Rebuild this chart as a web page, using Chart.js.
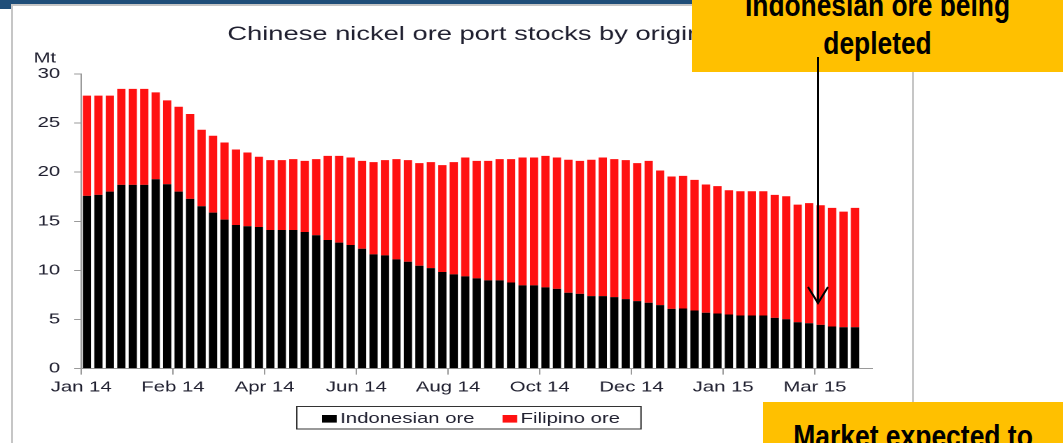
<!DOCTYPE html>
<html lang="en">
<head>
<meta charset="UTF-8">
<title>Chinese nickel ore port stocks by origin</title>
<script src="https://cdn.jsdelivr.net/npm/chart.js"></script>
<style>
  html, body { margin: 0; padding: 0; background: #fff; }
  body { width: 1063px; height: 443px; position: relative; overflow: hidden; font-family: 'Liberation Sans', Arial, sans-serif; }
  #band { position: absolute; left: 0; top: 0; width: 1063px; height: 4px; background: #1f4e79; }
  #corner { position: absolute; left: 0; top: 0; width: 11px; height: 9px; background: #1f4e79; }
  #frame { position: absolute; left: 11px; top: 4px; width: 903px; height: 470px; border: 2px solid #c6c6c6; box-sizing: border-box; }
  /* the source picture is stretched sideways, so the chart is drawn narrow and widened */
  #wrap { position: absolute; left: 0; top: 0; width: 664px; height: 443px; transform: scaleX(1.4); transform-origin: 0 0; }
  .note { position: absolute; background: #ffc000; color: #000; overflow: hidden; text-align: center;
          font-family: 'Liberation Sans', Arial, sans-serif; font-weight: bold; }
  .note div { position: absolute; left: -40px; right: -40px; transform: scaleX(0.85); }
  #note1 { left: 692px; top: 0; width: 371px; height: 72px; }
  #note1 div { top: -13px; font-size: 31px; line-height: 38px; }
  #note2 { left: 763px; top: 402px; width: 300px; height: 41px; }
  #note2 div { top: 15px; font-size: 31.5px; line-height: 38px; transform: scaleX(0.84); }
  #arrow { position: absolute; left: 0; top: 0; }
</style>
</head>
<body>
<div id="band"></div>
<div id="corner"></div>
<div id="frame"></div>
<div id="wrap"><canvas id="stocks" width="664" height="443"></canvas></div>

<div class="note" id="note1"><div>Indonesian ore being<br>depleted</div></div>
<div class="note" id="note2"><div>Market expected to</div></div>
<svg id="arrow" width="1063" height="443">
  <line x1="818" y1="57" x2="818" y2="302" stroke="#000" stroke-width="2"/>
  <polyline points="808,287 818,303 828,287" fill="none" stroke="#000" stroke-width="2"/>
</svg>

<script>
// weekly readings, Mt
var weeks = ['03 Jan 14','10 Jan 14','17 Jan 14','24 Jan 14','31 Jan 14','07 Feb 14','14 Feb 14','21 Feb 14','28 Feb 14',
  '07 Mar 14','14 Mar 14','21 Mar 14','28 Mar 14','04 Apr 14','11 Apr 14','18 Apr 14','25 Apr 14',
  '02 May 14','09 May 14','16 May 14','23 May 14','30 May 14','06 Jun 14','13 Jun 14','20 Jun 14','27 Jun 14',
  '04 Jul 14','11 Jul 14','18 Jul 14','25 Jul 14','01 Aug 14','08 Aug 14','15 Aug 14','22 Aug 14','29 Aug 14',
  '05 Sep 14','12 Sep 14','19 Sep 14','26 Sep 14','03 Oct 14','10 Oct 14','17 Oct 14','24 Oct 14','31 Oct 14',
  '07 Nov 14','14 Nov 14','21 Nov 14','28 Nov 14','05 Dec 14','12 Dec 14','19 Dec 14','26 Dec 14',
  '02 Jan 15','09 Jan 15','16 Jan 15','23 Jan 15','30 Jan 15','06 Feb 15','13 Feb 15','20 Feb 15','27 Feb 15',
  '06 Mar 15','13 Mar 15','20 Mar 15','27 Mar 15','03 Apr 15','10 Apr 15','17 Apr 15','24 Apr 15'];

var xTickLabels = ['Jan 14', 'Feb 14', 'Apr 14', 'Jun 14', 'Aug 14', 'Oct 14', 'Dec 14', 'Jan 15', 'Mar 15'];
var yTicks = [0, 5, 10, 15, 20, 25, 30];

var indonesian = [17.58, 17.68, 18.02, 18.7, 18.7, 18.7, 19.28, 18.77, 18.02, 17.28,
  16.53, 15.88, 15.17, 14.62, 14.49, 14.42, 14.11, 14.11, 14.11, 13.91,
  13.57, 13.09, 12.82, 12.58, 12.2, 11.63, 11.53, 11.12, 10.88, 10.47,
  10.23, 9.83, 9.59, 9.39, 9.18, 8.98, 8.98, 8.77, 8.47, 8.47,
  8.27, 8.12, 7.72, 7.61, 7.38, 7.38, 7.28, 7.07, 6.87, 6.7,
  6.46, 6.08, 6.12, 5.92, 5.68, 5.61, 5.51, 5.41, 5.41, 5.41,
  5.17, 5.03, 4.72, 4.62, 4.45, 4.29, 4.21, 4.21, null];

var filipino = [10.21, 10.11, 9.77, 9.77, 9.77, 9.77, 8.84, 8.54, 8.64, 8.64,
  7.79, 7.82, 7.85, 7.69, 7.51, 7.14, 7.11, 7.11, 7.22, 7.24,
  7.76, 8.57, 8.84, 8.91, 8.95, 9.39, 9.69, 10.21, 10.34, 10.45,
  10.79, 10.88, 11.43, 12.1, 11.97, 12.17, 12.35, 12.56, 13.02, 13.02,
  13.39, 13.37, 13.54, 13.54, 13.88, 14.11, 14.05, 14.15, 14.05, 14.45,
  13.71, 13.47, 13.5, 13.29, 13.06, 12.96, 12.65, 12.65, 12.65, 12.65,
  12.51, 12.52, 11.97, 12.22, 12.18, 12.07, 11.77, 12.15, null];

var textColor = '#202030';
var axisColor = '#9a9a9a';
var font = "'Liberation Sans', Arial, sans-serif";

// boxed legend under the axis, plus the "Mt" unit label
var extras = {
    id: 'extras',
    afterDraw: function(chart) {
        var ctx = chart.ctx;
        var area = chart.chartArea;
        ctx.save();
        ctx.font = '14.5px ' + font;
        ctx.fillStyle = textColor;
        ctx.textAlign = 'center';
        ctx.textBaseline = 'middle';
        ctx.fillText('Mt', area.left - 26, area.top - 15.5);

        ctx.textAlign = 'left';
        var left = 212, top = 406.5, y = 419;
        var x = left + 18;
        chart.data.datasets.forEach(function(ds, i) {
            if (i > 0) x += 20;
            ctx.fillStyle = ds.backgroundColor;
            ctx.fillRect(x, y - 4, 10.5, 7.6);
            x += 13;
            ctx.fillStyle = textColor;
            ctx.fillText(ds.label, x, y);
            x += ctx.measureText(ds.label).width;
        });
        ctx.strokeStyle = '#333';
        ctx.lineWidth = 1;
        ctx.strokeRect(left, top, x + 15 - left, 22.5);
        ctx.restore();
    }
};

var ctx = document.getElementById('stocks').getContext('2d');
var stocksChart = new Chart(ctx, {
    type: 'bar',
    data: {
        labels: weeks,
        datasets: [{
            label: 'Indonesian ore',
            data: indonesian,
            backgroundColor: '#000000',
            xAxisID: 'x',
            yAxisID: 'y'
        }, {
            label: 'Filipino ore',
            data: filipino,
            backgroundColor: '#ff1111',
            xAxisID: 'x',
            yAxisID: 'y'
        }]
    },
    options: {
        responsive: false,
        animation: false,
        devicePixelRatio: 2,
        barPercentage: 0.72,
        categoryPercentage: 1.0,
        layout: { padding: { left: 0, right: 0, top: 0, bottom: 43 } },
        plugins: {
            legend: { display: false },
            tooltip: { enabled: false },
            title: {
                display: true,
                text: 'Chinese nickel ore port stocks by origin',
                color: textColor,
                font: { family: font, size: 19.5, weight: 'normal' },
                padding: { top: 23, bottom: 27.5 }
            }
        },
        scales: {
            x: {
                type: 'category',
                stacked: true,
                offset: true,
                display: false
            },
            // tick marks sit between weeks every 8 weeks, so a plain linear axis carries them
            xl: {
                type: 'linear',
                position: 'bottom',
                offset: false,
                min: 0,
                max: weeks.length,
                grid: { offset: false, drawOnChartArea: false, drawTicks: true, tickLength: 6, color: axisColor },
                border: { display: true, color: axisColor, width: 1 },
                ticks: {
                    stepSize: 8,
                    includeBounds: false,
                    autoSkip: false,
                    maxRotation: 0,
                    padding: 4,
                    color: textColor,
                    font: { family: font, size: 14.5 },
                    callback: function(v) { return v % 8 === 0 ? xTickLabels[v / 8] : ''; }
                }
            },
            y: {
                stacked: true,
                min: yTicks[0],
                max: yTicks[yTicks.length - 1],
                afterFit: function(scale) { scale.width = 58; },
                grid: { drawOnChartArea: false, drawTicks: true, tickLength: 5, color: axisColor },
                border: { display: true, color: axisColor, width: 1 },
                ticks: {
                    stepSize: 5,
                    padding: 10,
                    color: textColor,
                    font: { family: font, size: 14.5 }
                }
            },
            // empty spacer on the right so the plot ends where the source plot ends
            yr: {
                position: 'right',
                min: 0,
                max: 30,
                afterFit: function(scale) { scale.width = 41; },
                grid: { display: false },
                border: { display: false },
                ticks: { display: false }
            }
        }
    },
    plugins: [extras]
});
</script>
</body>
</html>
